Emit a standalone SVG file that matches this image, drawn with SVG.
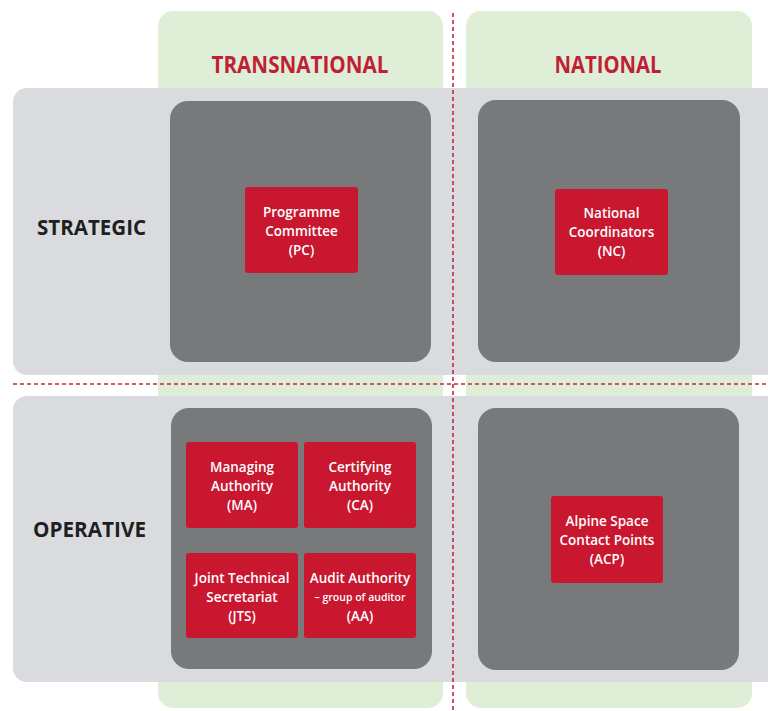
<svg xmlns="http://www.w3.org/2000/svg" width="768" height="711" viewBox="0 0 768 711">
<style>
.col{fill:#dfeed6}
.row{fill:#d9dbde}
.panel{fill:#77797b}
.box{fill:#c8172f}
.hdr{font-family:"Open Sans","Liberation Sans",sans-serif;font-weight:700;font-size:24px;fill:#c01f38;text-anchor:middle}
.lbl{font-family:"Open Sans","Liberation Sans",sans-serif;font-weight:700;font-size:21px;fill:#1f1f1f;text-anchor:middle}
.bt{font-family:"Open Sans","Liberation Sans",sans-serif;font-weight:600;font-size:13.5px;fill:#ffffff;text-anchor:middle}
.sm{font-size:10.5px}
.div{stroke:#c4283c;stroke-width:1.6;stroke-dasharray:4 3;fill:none}
</style>
<rect width="768" height="711" fill="#ffffff"/>
<g id="columns">
<rect class="col" x="158" y="11" width="285" height="697" rx="15"/>
<rect class="col" x="466" y="11" width="286" height="697" rx="15"/>
<text class="hdr" x="300" y="73" textLength="177" lengthAdjust="spacingAndGlyphs">TRANSNATIONAL</text>
<text class="hdr" x="608" y="73" textLength="107" lengthAdjust="spacingAndGlyphs">NATIONAL</text>
</g>
<g id="rows">
<rect class="row" x="13" y="88" width="775" height="287" rx="14"/>
<rect class="row" x="13" y="396" width="775" height="286" rx="14"/>
<text class="lbl" x="91.5" y="235" textLength="109" lengthAdjust="spacingAndGlyphs">STRATEGIC</text>
<text class="lbl" x="89.5" y="537" textLength="113" lengthAdjust="spacingAndGlyphs">OPERATIVE</text>
</g>
<g id="panels">
<rect class="panel" x="170" y="101" width="261" height="261" rx="18"/>
<rect class="panel" x="478" y="100" width="262" height="262" rx="18"/>
<rect class="panel" x="171" y="408" width="261" height="261" rx="18"/>
<rect class="panel" x="478" y="408" width="261" height="262" rx="18"/>
</g>
<g id="dividers">
<line class="div" x1="453" y1="13" x2="453" y2="711"/>
<line class="div" x1="13" y1="384" x2="768" y2="384"/>
</g>
<g id="pc">
<rect class="box" x="245" y="187" width="113" height="86" rx="3"/>
<text class="bt" x="301.5" y="217">Programme</text>
<text class="bt" x="301.5" y="236">Committee</text>
<text class="bt" x="301.5" y="255">(PC)</text>
</g>
<g id="nc">
<rect class="box" x="555" y="189" width="113" height="86" rx="3"/>
<text class="bt" x="611.5" y="218">National</text>
<text class="bt" x="611.5" y="237">Coordinators</text>
<text class="bt" x="611.5" y="256">(NC)</text>
</g>
<g id="ma">
<rect class="box" x="186" y="442" width="112" height="86" rx="3"/>
<text class="bt" x="242" y="472">Managing</text>
<text class="bt" x="242" y="491">Authority</text>
<text class="bt" x="242" y="510">(MA)</text>
</g>
<g id="ca">
<rect class="box" x="304" y="442" width="112" height="86" rx="3"/>
<text class="bt" x="360" y="472">Certifying</text>
<text class="bt" x="360" y="491">Authority</text>
<text class="bt" x="360" y="510">(CA)</text>
</g>
<g id="jts">
<rect class="box" x="186" y="553" width="112" height="85" rx="3"/>
<text class="bt" x="242" y="583">Joint Technical</text>
<text class="bt" x="242" y="602">Secretariat</text>
<text class="bt" x="242" y="621">(JTS)</text>
</g>
<g id="aa">
<rect class="box" x="304" y="553" width="112" height="85" rx="3"/>
<text class="bt" x="360" y="583">Audit Authority</text>
<text class="bt sm" x="360" y="601">– group of auditor</text>
<text class="bt" x="360" y="621">(AA)</text>
</g>
<g id="acp">
<rect class="box" x="551" y="496" width="112" height="87" rx="3"/>
<text class="bt" x="607" y="526">Alpine Space</text>
<text class="bt" x="607" y="545">Contact Points</text>
<text class="bt" x="607" y="564">(ACP)</text>
</g>
</svg>
